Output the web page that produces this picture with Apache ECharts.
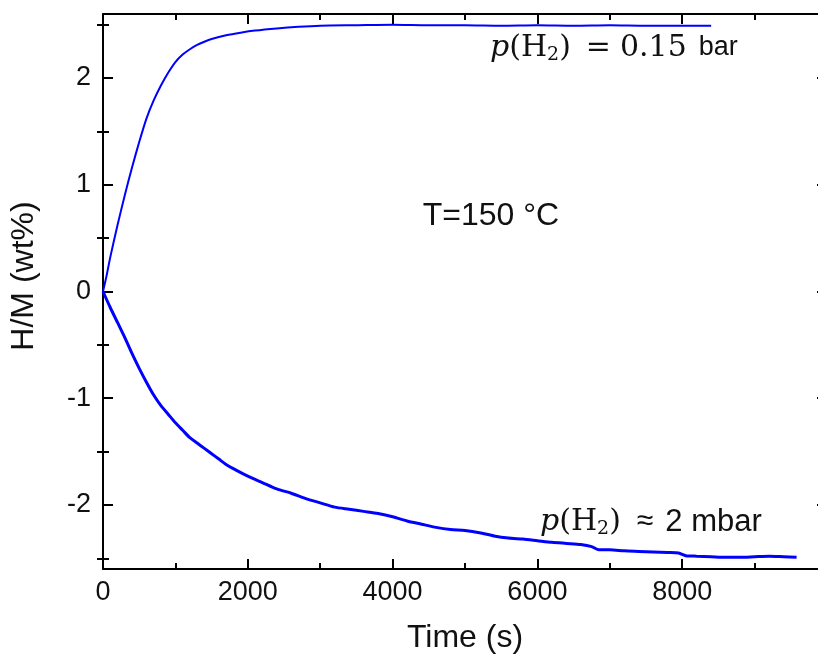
<!DOCTYPE html>
<html>
<head>
<meta charset="utf-8">
<script src="https://cdn.jsdelivr.net/npm/echarts@6/dist/echarts.min.js"></script>
<style>
html,body{margin:0;padding:0;background:#fff;}
#chart{width:818px;height:655px;}
</style>
</head>
<body>
<div id="chart"></div>
<script>
// Absorption at p(H2)=0.15 bar
const absTime = [0,50,100,200,300,400,500,600,700,800,900,1000,1100,1200,1300,1400,1500,1700,1900,2100,2400,2700,3000,3500,4000,4500,5000,5500,6000,6500,7000,7500,8000,8400];
const absHM   = [0,0.15,0.32,0.62,0.9,1.16,1.4,1.62,1.79,1.93,2.05,2.15,2.22,2.27,2.31,2.34,2.365,2.40,2.425,2.445,2.465,2.48,2.49,2.495,2.5,2.495,2.495,2.49,2.495,2.49,2.495,2.49,2.49,2.49];
// Desorption at p(H2) ~ 2 mbar
const desTime = [0,100,200,300,400,500,600,700,800,900,1000,1100,1200,1300,1400,1500,1600,1700,1800,2000,2200,2400,2600,2800,3000,3200,3400,3600,3800,4000,4200,4400,4600,4800,5000,5200,5400,5600,5800,6000,6200,6400,6600,6750,6850,7000,7200,7400,7600,7800,7950,8050,8200,8400,8600,8800,9000,9200,9400,9580];
const desHM   = [0,-0.15,-0.29,-0.43,-0.58,-0.72,-0.85,-0.97,-1.07,-1.15,-1.23,-1.30,-1.37,-1.42,-1.47,-1.52,-1.57,-1.62,-1.66,-1.73,-1.79,-1.85,-1.89,-1.94,-1.98,-2.02,-2.04,-2.06,-2.08,-2.11,-2.15,-2.18,-2.21,-2.23,-2.24,-2.26,-2.29,-2.31,-2.32,-2.335,-2.35,-2.36,-2.37,-2.39,-2.42,-2.42,-2.43,-2.435,-2.44,-2.445,-2.45,-2.475,-2.48,-2.485,-2.49,-2.49,-2.485,-2.48,-2.485,-2.49];
// Axis ticks
const yMajor = [-2,-1,0,1,2];
const yMinor = [-2.5,-1.5,-0.5,0.5,1.5,2.5];

const FONT = "'Liberation Sans', Arial, sans-serif";
const SERIF = "'DejaVu Serif', serif";
const pairs = (xs, ys) => xs.map((x, i) => [x, ys[i]]);

const chart = echarts.init(document.getElementById('chart'), null, {renderer: 'canvas'});

const lineCol = '#000';
const baseX = {
  type: 'value', min: 0, max: 10000, interval: 2000,
  splitLine: {show: false},
  axisLine: {show: true, onZero: false, lineStyle: {color: lineCol, width: 2}},
  axisTick: {show: true, inside: true, length: 10, lineStyle: {color: lineCol, width: 2}},
  minorTick: {show: true, splitNumber: 2, length: 6, lineStyle: {color: lineCol, width: 2}},
  minorSplitLine: {show: false}
};
const baseY = {
  type: 'value', min: -2.6, max: 2.6,
  splitLine: {show: false},
  axisLine: {show: true, onZero: false, lineStyle: {color: lineCol, width: 2}}
};

const richBase = {
  i: {fontFamily: SERIF, fontStyle: 'italic', fontSize: 30, fill: '#111'},
  s: {fontFamily: SERIF, fontSize: 30, fill: '#111'},
  sub: {fontFamily: SERIF, fontSize: 19, fill: '#111', padding: [15, 0, 0, 0]}
};

const option = {
  animation: false,
  backgroundColor: '#fff',
  grid: {left: 103, top: 14, width: 724, height: 555, containLabel: false, outerBoundsMode: 'none'},
  xAxis: [
    Object.assign({}, baseX, {
      position: 'bottom',
      name: 'Time (s)', nameLocation: 'middle', nameGap: 53,
      nameTextStyle: {fontFamily: FONT, fontSize: 32, color: '#111'},
      axisLabel: {show: true, margin: 10, fontFamily: FONT, fontSize: 27, color: '#111', showMaxLabel: false,
                  formatter: v => String(v)}
    }),
    Object.assign({}, baseX, {position: 'top', axisLabel: {show: false}})
  ],
  yAxis: [
    Object.assign({}, baseY, {
      position: 'left',
      axisTick: {show: true, inside: true, length: 10, customValues: yMajor, lineStyle: {color: lineCol, width: 2}},
      axisLabel: {show: true, margin: 12, customValues: yMajor, fontFamily: FONT, fontSize: 27, color: '#111',
                  formatter: v => String(v)}
    }),
    Object.assign({}, baseY, {
      position: 'right',
      axisTick: {show: true, inside: true, length: 10, customValues: yMajor, lineStyle: {color: lineCol, width: 2}},
      axisLabel: {show: false}
    }),
    Object.assign({}, baseY, {
      position: 'left',
      axisLine: {show: false},
      axisTick: {show: true, inside: true, length: 6, customValues: yMinor, lineStyle: {color: lineCol, width: 2}},
      axisLabel: {show: false}
    }),
    Object.assign({}, baseY, {
      position: 'right',
      axisLine: {show: false},
      axisTick: {show: true, inside: true, length: 6, customValues: yMinor, lineStyle: {color: lineCol, width: 2}},
      axisLabel: {show: false}
    })
  ],
  series: [
    {
      type: 'line', xAxisIndex: 0, yAxisIndex: 0,
      data: pairs(absTime, absHM), showSymbol: false, smooth: 0.25,
      lineStyle: {color: '#0000ff', width: 2}, z: 3
    },
    {
      type: 'line', xAxisIndex: 0, yAxisIndex: 0,
      data: pairs(desTime, desHM), showSymbol: false, smooth: 0.25,
      lineStyle: {color: '#0000ff', width: 3}, z: 3
    }
  ],
  graphic: [
    {
      type: 'text', x: 24, y: 276, rotation: Math.PI / 2,
      style: {text: 'H/M (wt%)', fontFamily: FONT, fontSize: 32, fill: '#111', align: 'center', verticalAlign: 'middle'}
    },
    {
      type: 'text', x: 491, y: 216,
      style: {text: 'T=150 °C', fontFamily: FONT, fontSize: 32, fill: '#111', align: 'center', verticalAlign: 'middle'}
    },
    {
      type: 'text', x: 490, y: 48,
      style: {
        text: '{i|p}{s|(H}{sub|2}{s|)}{op|=}{n|0.15}{a|bar}',
        align: 'left', verticalAlign: 'middle',
        rich: Object.assign({}, richBase, {
          op: {fontFamily: SERIF, fontSize: 30, fill: '#111', padding: [0, 0, 0, 15]},
          n: {fontFamily: SERIF, fontSize: 30, fill: '#111', padding: [0, 0, 0, 9]},
          a: {fontFamily: FONT, fontSize: 27, fill: '#111', padding: [0, 0, 0, 12]}
        })
      }
    },
    {
      type: 'text', x: 540, y: 522,
      style: {
        text: '{i|p}{s|(H}{sub|2}{s|)}{op|≈}{a|2 mbar}',
        align: 'left', verticalAlign: 'middle',
        rich: Object.assign({}, richBase, {
          op: {fontFamily: FONT, fontSize: 30, fill: '#111', padding: [0, 0, 0, 16]},
          a: {fontFamily: FONT, fontSize: 31, fill: '#111', padding: [0, 0, 0, 12]}
        })
      }
    }
  ]
};
chart.setOption(option);
</script>
</body>
</html>
